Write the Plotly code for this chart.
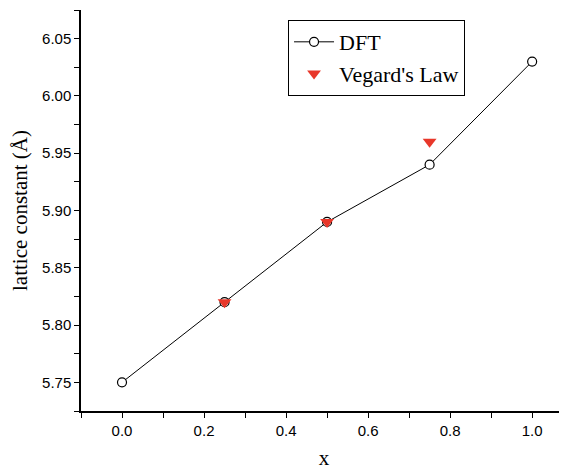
import plotly.graph_objects as go

dft_x = [0.0, 0.25, 0.5, 0.75, 1.0]
dft_y = [5.75, 5.82, 5.89, 5.94, 6.03]
veg_x = [0.25, 0.5, 0.75]
veg_y = [5.82, 5.89, 5.96]

x_ticks = [0.0, 0.2, 0.4, 0.6, 0.8, 1.0]
x_labels = ["0.0", "0.2", "0.4", "0.6", "0.8", "1.0"]
y_ticks = [5.75, 5.80, 5.85, 5.90, 5.95, 6.00, 6.05]
y_labels = ["5.75", "5.80", "5.85", "5.90", "5.95", "6.00", "6.05"]

fig = go.Figure()
fig.add_trace(go.Scatter(x=dft_x, y=dft_y, mode="lines+markers", name="DFT",
                         line=dict(color="black", width=1),
                         marker=dict(symbol="circle", size=9, color="white",
                                     line=dict(color="black", width=1.2))))
fig.add_trace(go.Scatter(x=veg_x, y=veg_y, mode="markers", name="Vegard's Law",
                         marker=dict(symbol="triangle-down", size=12, color="#e8372a",
                                     line=dict(color="#e8372a", width=0))))

axis_common = dict(showline=True, linecolor="black", linewidth=1.5, ticks="outside",
                   ticklen=5, tickwidth=1.2, tickcolor="black", showgrid=False,
                   zeroline=False, mirror=False, automargin=False,
                   tickfont=dict(family="Liberation Sans", size=15, color="black"))

fig.update_layout(
    width=559, height=462,
    margin=dict(l=73, r=0, t=2, b=59),
    paper_bgcolor="white", plot_bgcolor="white",
    showlegend=True,
    legend=dict(x=0.426, y=0.975, xanchor="left", yanchor="top",
                bordercolor="black", borderwidth=1, bgcolor="white",
                font=dict(family="Liberation Serif", size=22, color="black"),
                tracegroupgap=0, itemwidth=40),
    xaxis=dict(range=[-0.1, 1.085], tickvals=x_ticks, ticktext=x_labels,
               minor=dict(ticks="outside", dtick=0.1, tick0=0, ticklen=5, tickcolor="black", tickwidth=1.2),
               title=dict(text="x", font=dict(family="Liberation Serif", size=21, color="black"), standoff=16),
               **axis_common),
    yaxis=dict(range=[5.725, 6.075], tickvals=y_ticks, ticktext=y_labels,
               minor=dict(ticks="outside", dtick=0.025, tick0=5.725, ticklen=5, tickcolor="black", tickwidth=1.2),
               title=dict(text="lattice constant (Å)", font=dict(family="Liberation Serif", size=21, color="black"), standoff=12),
               **axis_common),
)

fig.write_html("out.html")
